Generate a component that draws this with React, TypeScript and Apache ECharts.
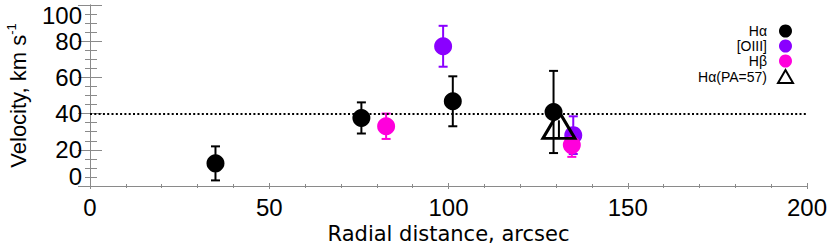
import React, { useEffect, useRef } from "react";
import * as echarts from "echarts";

const haX = [35, 75.7, 101.2, 129.3];
const haY = [12.5, 37.6, 46.8, 40.9];
const haErr = [9.4, 8.6, 13.8, 22.7];

const oiiiX = [98.5, 134.8];
const oiiiY = [77.2, 28.1];
const oiiiErr = [11.3, 10.4];

const hbX = [82.6, 134.4];
const hbY = [33.0, 22.6];
const hbErr = [7.0, 6.5];

const paX = [130.8];
const paY = [31.6];
const paErr = [4.7];

const meanVelocity = 40;

const xTicks = { min: 0, max: 200, interval: 50 };
const yTicks = { min: 0, max: 100, interval: 20 };

const FONT = "Liberation Sans, Arial, Helvetica, sans-serif";
const TITLE_FONT = "DejaVu Sans, Verdana, sans-serif";
const BLACK = "#000000";
const PURPLE = "#8a00ff";
const MAGENTA = "#ff00dc";
const AXIS_GREY = "#8a8a8a";

function toPoints(xs: number[], ys: number[], es: number[]) {
  return xs.map((x, i) => [x, ys[i], es[i]]);
}

function errorBarSeries(name: string, data: number[][], color: string, cap: number) {
  return {
    type: "custom",
    name: name + "-err",
    xAxisIndex: 0,
    yAxisIndex: 0,
    silent: true,
    encode: { x: 0, y: 1 },
    data,
    renderItem: (params: any, api: any) => {
      const x = api.value(0);
      const y = api.value(1);
      const e = api.value(2);
      const top = api.coord([x, y + e]);
      const bot = api.coord([x, y - e]);
      const style = { stroke: color, lineWidth: 2 };
      const children: any[] = [
        { type: "line", shape: { x1: top[0], y1: top[1], x2: bot[0], y2: bot[1] }, style },
      ];
      if (cap > 0) {
        children.push({ type: "line", shape: { x1: top[0] - cap, y1: top[1], x2: top[0] + cap, y2: top[1] }, style });
        children.push({ type: "line", shape: { x1: bot[0] - cap, y1: bot[1], x2: bot[0] + cap, y2: bot[1] }, style });
      }
      return { type: "group", children };
    },
  };
}

export default function App() {
  const ref = useRef<HTMLDivElement>(null);
  useEffect(() => {
    if (!ref.current) return;
    const chart = echarts.init(ref.current, null, { renderer: "svg" });
    const axisLine = { show: true, lineStyle: { color: AXIS_GREY, width: 1 } };
    const option: any = {
      animation: false,
      backgroundColor: "#ffffff",
      textStyle: { fontFamily: FONT },
      grid: { left: 90, right: 23, top: 5, bottom: 64, containLabel: false, outerBoundsMode: "none" },
      legend: {
        orient: "vertical",
        right: 36,
        top: 24,
        align: "right",
        itemWidth: 15,
        itemHeight: 13,
        itemGap: 1,
        padding: 0,
        selectedMode: false,
        textStyle: { fontFamily: FONT, fontSize: 14, color: BLACK, padding: [0, 6, 0, 0] },
        data: ["Hα", "[OIII]", "Hβ", "Hα(PA=57)"],
      },
      xAxis: [
        {
          type: "value",
          position: "bottom",
          min: xTicks.min,
          max: xTicks.max,
          interval: xTicks.interval,
          name: "Radial distance, arcsec",
          nameLocation: "middle",
          nameGap: 32,
          nameTextStyle: { fontFamily: TITLE_FONT, fontSize: 21, color: BLACK },
          axisLine,
          axisTick: { show: true, inside: true, length: 3, lineStyle: { color: AXIS_GREY } },
          minorTick: { show: true, splitNumber: 5, length: 2, lineStyle: { color: AXIS_GREY } },
          axisLabel: { fontFamily: FONT, fontSize: 24, color: BLACK, margin: 9 },
          splitLine: { show: false },
        },
        {
          type: "value",
          position: "top",
          min: xTicks.min,
          max: xTicks.max,
          interval: xTicks.interval,
          axisLine,
          axisTick: { show: true, inside: true, length: 3, lineStyle: { color: AXIS_GREY } },
          minorTick: { show: true, splitNumber: 5, length: 2, lineStyle: { color: AXIS_GREY } },
          axisLabel: { show: false },
          splitLine: { show: false },
        },
      ],
      yAxis: [
        {
          type: "value",
          position: "left",
          min: yTicks.min,
          max: yTicks.max,
          interval: yTicks.interval,
          name: "{a|Velocity, km s}{s|-1}",
          nameLocation: "middle",
          nameGap: 59,
          nameRotate: 90,
          nameTextStyle: {
            fontFamily: FONT,
            color: BLACK,
            rich: {
              a: { fontFamily: FONT, fontSize: 22, color: BLACK, lineHeight: 26 },
              s: { fontFamily: FONT, fontSize: 13, color: BLACK, verticalAlign: "top", lineHeight: 26 },
            },
          },
          axisLine,
          axisTick: { show: true, inside: true, length: 12, lineStyle: { color: AXIS_GREY } },
          minorTick: { show: true, splitNumber: 4, length: 7, lineStyle: { color: AXIS_GREY } },
          axisLabel: {
            fontFamily: FONT,
            fontSize: 24,
            color: BLACK,
            margin: 8,
            formatter: (v: number) => (v === 0 ? "{lo|0}" : v === 100 ? "{hi|100}" : String(v)),
            rich: {
              lo: { fontFamily: FONT, fontSize: 24, color: BLACK, padding: [0, 0, 19, 0] },
              hi: { fontFamily: FONT, fontSize: 24, color: BLACK, padding: [20, 0, 0, 0] },
            },
          },
          splitLine: { show: false },
        },
        {
          type: "value",
          position: "right",
          min: yTicks.min,
          max: yTicks.max,
          interval: yTicks.interval,
          axisLine,
          axisTick: { show: true, inside: true, length: 12, lineStyle: { color: AXIS_GREY } },
          minorTick: { show: true, splitNumber: 4, length: 5, lineStyle: { color: AXIS_GREY } },
          axisLabel: { show: false },
          splitLine: { show: false },
        },
      ],
      series: [
        errorBarSeries("Hα", toPoints(haX, haY, haErr), BLACK, 4.5),
        {
          type: "scatter",
          name: "Hα",
          xAxisIndex: 0,
          yAxisIndex: 0,
          symbol: "circle",
          symbolSize: 18,
          itemStyle: { color: BLACK, opacity: 1 },
          data: haX.map((x, i) => [x, haY[i]]),
          markLine: {
            silent: true,
            symbol: "none",
            label: { show: false },
            lineStyle: { type: [2, 2.3], color: BLACK, width: 2 },
            data: [{ yAxis: meanVelocity }],
          },
        },
        errorBarSeries("[OIII]", toPoints(oiiiX, oiiiY, oiiiErr), PURPLE, 4.5),
        {
          type: "scatter",
          name: "[OIII]",
          symbol: "circle",
          symbolSize: 18,
          itemStyle: { color: PURPLE, opacity: 1 },
          data: oiiiX.map((x, i) => [x, oiiiY[i]]),
        },
        errorBarSeries("Hβ", toPoints(hbX, hbY, hbErr), MAGENTA, 4.5),
        {
          type: "scatter",
          name: "Hβ",
          symbol: "circle",
          symbolSize: 18,
          itemStyle: { color: MAGENTA, opacity: 1 },
          data: hbX.map((x, i) => [x, hbY[i]]),
        },
        errorBarSeries("Hα(PA=57)", toPoints(paX, paY, paErr), BLACK, 0),
        {
          type: "scatter",
          name: "Hα(PA=57)",
          symbol: "triangle",
          symbolSize: [32, 27],
          symbolOffset: [0, -4],
          itemStyle: { color: "rgba(0,0,0,0)", borderColor: BLACK, borderWidth: 3, opacity: 1 },
          data: paX.map((x, i) => [x, paY[i]]),
        },
      ],
    };
    chart.setOption(option);
    return () => chart.dispose();
  }, []);
  return <div ref={ref} style={{ position: "fixed", left: 0, top: 0, width: 830, height: 250 }} />;
}
